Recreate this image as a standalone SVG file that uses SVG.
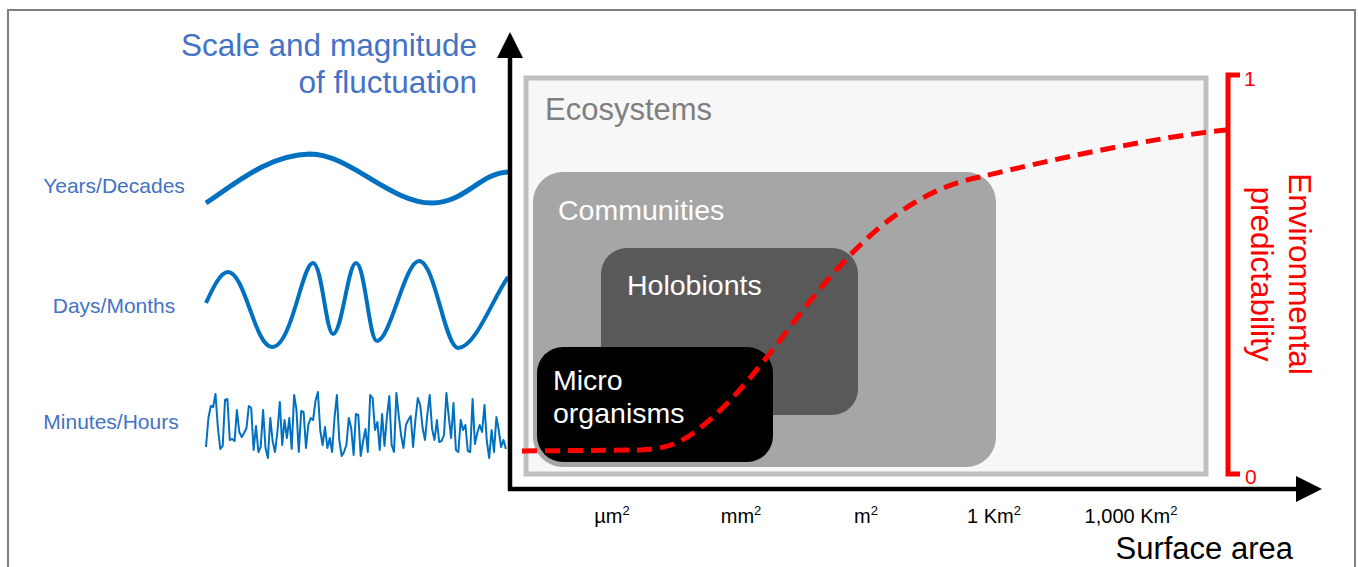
<svg xmlns="http://www.w3.org/2000/svg" width="1358" height="567" viewBox="0 0 1358 567">
<style>
text{font-family:"Liberation Sans",Arial,sans-serif}
.blue{fill:#4472c4}
.wave{fill:none;stroke:#0070c0;stroke-linejoin:round;stroke-linecap:butt}
.lvl{fill:#ffffff}
.tick{font-size:20px;fill:#000}
.red{fill:#ff0000}
</style>
<rect x="0" y="0" width="1358" height="567" fill="#fff"/>
<rect x="8" y="10" width="1347" height="620" fill="none" stroke="#7f7f7f" stroke-width="2"/>

<g id="title">
<text class="blue" x="477" y="56" font-size="31.5" text-anchor="end">Scale and magnitude</text>
<text class="blue" x="477" y="93" font-size="31.5" text-anchor="end">of fluctuation</text>
</g>

<g id="wave-years">
<text class="blue" x="114" y="193" font-size="21" text-anchor="middle">Years/Decades</text>
<path class="wave" stroke-width="5" d="M206,203 C240,180 270,155 310,154 C350,154 390,203 432,203 C465,203 480,173 508,172"/>
</g>
<g id="wave-days">
<text class="blue" x="114" y="313" font-size="21" text-anchor="middle">Days/Months</text>
<path class="wave" stroke-width="4" d="M206,303 C212,290 220,272 228,272 C245,272 255,347 272,347 C292,347 302,263 313,263 C322,263 326,334 333,334 C342,334 348,263 356,263 C365,263 369,341 377,341 C390,341 405,261 419,261 C435,261 445,348 458,348 C475,348 492,300 508,277"/>
</g>
<g id="wave-minutes">
<text class="blue" x="111" y="429" font-size="21" text-anchor="middle">Minutes/Hours</text>
<polyline class="wave" stroke-width="2" points="206,447 208.4,418 210.8,406 213.1,407 215.5,394 217.9,428 220.3,449 222.7,446 225,400 227.4,399 229.8,440 232.2,439 234.6,441 236.9,410 239.3,432 241.7,437 244.1,433 246.5,428 248.8,406 251.2,408 253.6,450 256,426 258.4,452 260.7,447 263.1,410 265.5,448 267.9,458 270.3,418 272.6,441 275,452 277.4,432 279.8,402 282.2,445 284.5,420 286.9,438 289.3,418 291.7,449 294.1,395 296.4,409 298.8,452 301.2,411 303.6,412 306,448 308.3,425 310.7,418 313.1,420 315.5,401 317.9,392 320.2,430 322.6,445 325,427 327.4,448 329.8,438 332.1,452 334.5,418 336.9,395 339.3,440 341.7,456 344,452 346.4,445 348.8,418 351.2,428 353.6,455 355.9,414 358.3,415 360.7,456 363.1,441 365.5,429 367.8,452 370.2,395 372.6,398 375,430 377.4,422 379.7,450 382.1,414 384.5,446 386.9,417 389.3,396 391.6,445 394,452 396.4,393 398.8,416 401.2,436 403.5,448 405.9,425 408.3,420 410.7,416 413.1,447 415.4,420 417.8,398 420.2,405 422.6,428 425,440 427.3,415 429.7,395 432.1,429 434.5,440 436.9,420 439.2,442 441.6,441 444,435 446.4,393 448.8,417 451.1,438 453.5,403 455.9,450 458.3,452 460.7,420 463,430 465.4,425 467.8,451 470.2,452 472.6,399 474.9,444 477.3,433 479.7,425 482.1,432 484.5,405 486.8,441 489.2,458 491.6,430 494,452 496.4,417 498.7,430 501.1,447 503.5,440 505.9,449"/>
</g>

<g id="ecosystems">
<rect x="526" y="78" width="680" height="396" fill="#f7f7f7" stroke="#bfbfbf" stroke-width="5"/>
<text x="545" y="120" font-size="31" fill="#7f7f7f">Ecosystems</text>
</g>
<g id="communities">
<rect x="533" y="172" width="463" height="295" rx="30" ry="30" fill="#a6a6a6"/>
<text class="lvl" x="558" y="220" font-size="28.5">Communities</text>
</g>
<g id="holobionts">
<rect x="601" y="248" width="257" height="167" rx="26" ry="26" fill="#595959"/>
<text class="lvl" x="627" y="295" font-size="28.5">Holobionts</text>
</g>
<g id="microorganisms">
<rect x="537" y="347" width="236" height="115" rx="26" ry="26" fill="#000"/>
<text class="lvl" x="553" y="390" font-size="28.5">Micro</text>
<text class="lvl" x="553" y="423" font-size="28.5">organisms</text>
</g>

<g id="connectors">
<line x1="510" y1="491" x2="510" y2="58" stroke="#000" stroke-width="4.5"/>
<polygon points="510,32 497,58 523,58" fill="#000"/>
<line x1="508" y1="489" x2="1296" y2="489" stroke="#000" stroke-width="4.5"/>
<polygon points="1322,489 1296,476 1296,502" fill="#000"/>
<path d="M522,451 L640,450 C665,449 680,444 700,428 C725,408 745,385 767,357 C800,315 830,270 880,227 C920,195 950,183 980,177 C1050,160 1150,138 1226,130" fill="none" stroke="#ff0000" stroke-width="5" stroke-dasharray="15,8"/>
<path d="M1240,75 L1228,75 L1228,474 L1240,474" fill="none" stroke="#ff0000" stroke-width="5"/>
</g>

<g id="predictability">
<text class="red" x="1244" y="86" font-size="21">1</text>
<text class="red" x="1245" y="484" font-size="21">0</text>
<text class="red" font-size="31.5" text-anchor="middle" transform="translate(1289,274) rotate(90)">Environmental</text>
<text class="red" font-size="31.5" text-anchor="middle" transform="translate(1251,274) rotate(90)">predictability</text>
</g>

<g id="xlabels">
<text class="tick" x="612" y="523" text-anchor="middle">µm<tspan font-size="13" dy="-8">2</tspan></text>
<text class="tick" x="741" y="523" text-anchor="middle">mm<tspan font-size="13" dy="-8">2</tspan></text>
<text class="tick" x="866" y="523" text-anchor="middle">m<tspan font-size="13" dy="-8">2</tspan></text>
<text class="tick" x="994" y="523" text-anchor="middle">1 Km<tspan font-size="13" dy="-8">2</tspan></text>
<text class="tick" x="1131" y="523" text-anchor="middle">1,000 Km<tspan font-size="13" dy="-8">2</tspan></text>
<text x="1293" y="559" font-size="31" text-anchor="end" fill="#000">Surface area</text>
</g>
</svg>
